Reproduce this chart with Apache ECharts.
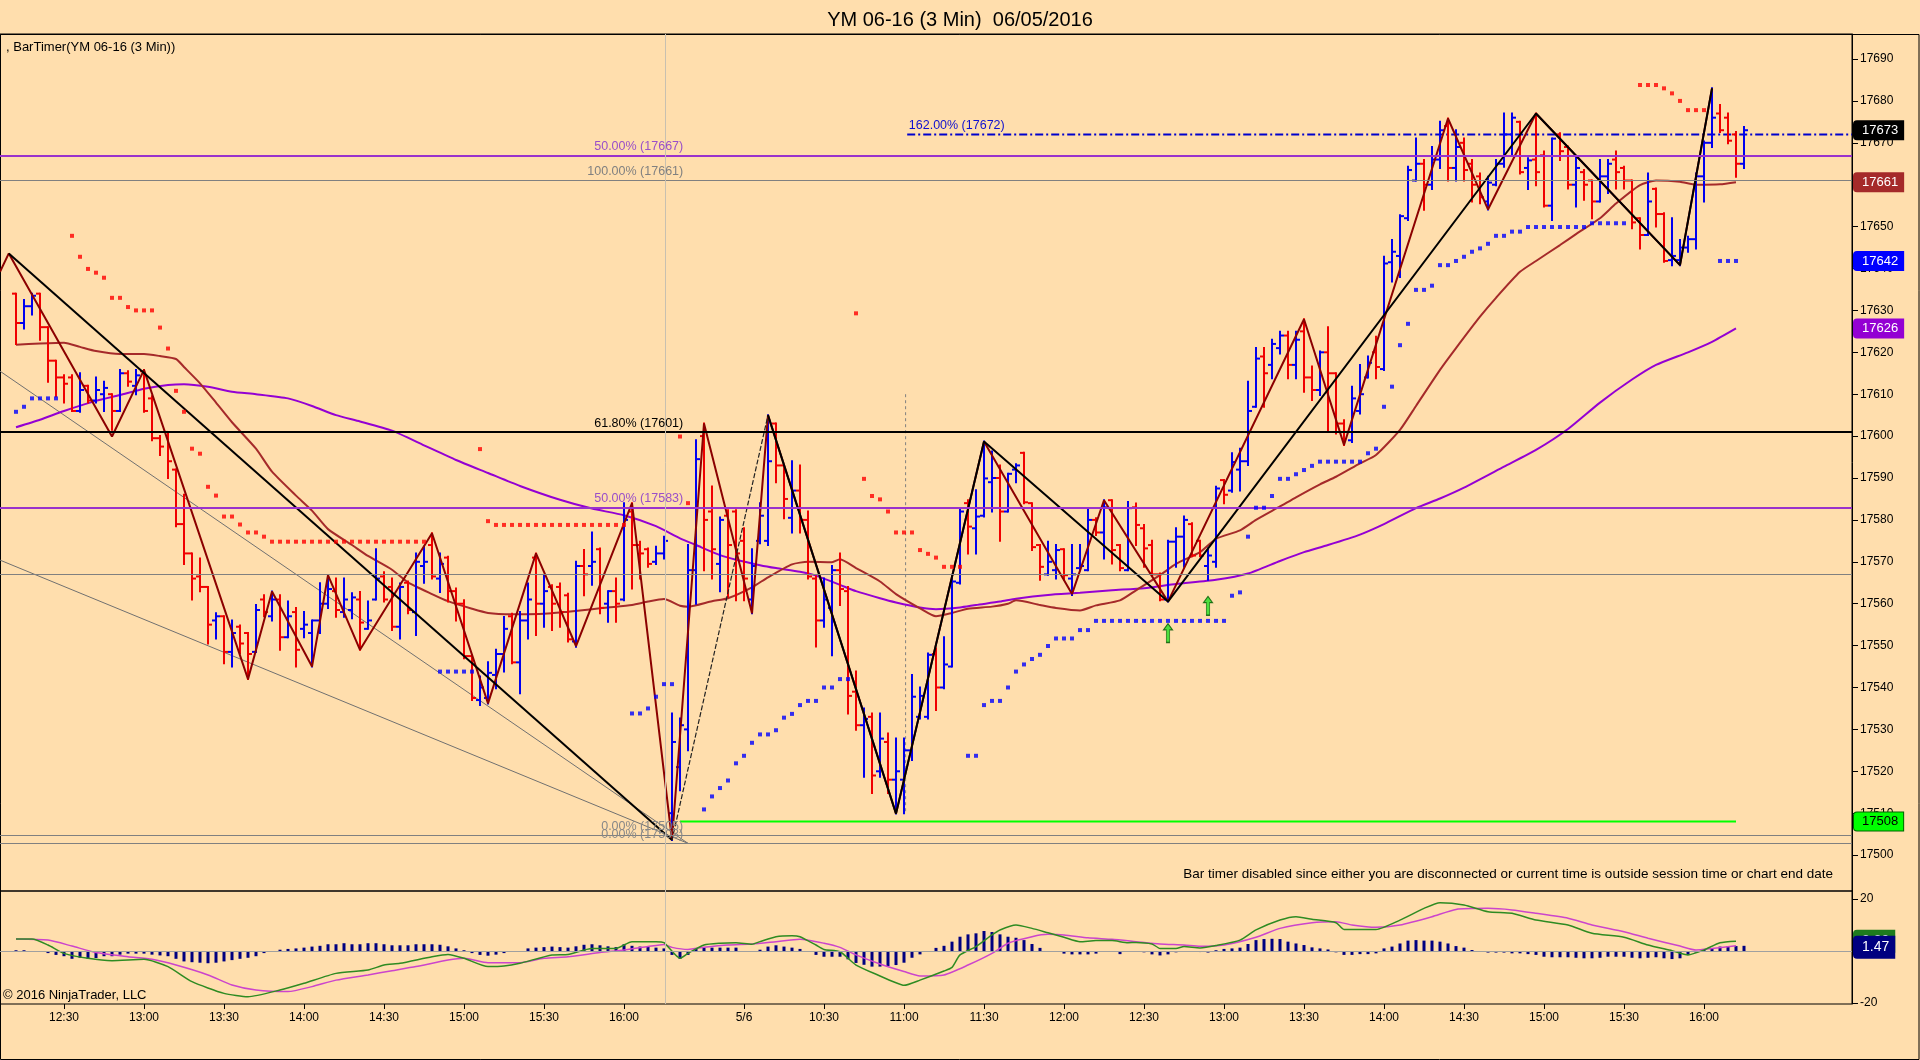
<!DOCTYPE html>
<html><head><meta charset="utf-8">
<script src="https://cdn.jsdelivr.net/npm/echarts@6/dist/echarts.min.js"></script>
<style>html,body{margin:0;padding:0;background:#FFDEAD;}#c{width:1920px;height:1060px;}</style>
</head><body><div id="c"></div>
<script>
// ---------- DATA ----------
// x-axis tick positions (bar index) and labels
const tickIndex = [6,16,26,36,46,56,66,76,91,101,111,121,131,141,151,161,171,181,191,201,211];
const tickLabels = ['12:30','13:00','13:30','14:00','14:30','15:00','15:30','16:00','5/6','10:30','11:00','11:30','12:00','12:30','13:00','13:30','14:00','14:30','15:00','15:30','16:00'];
const priceTicks = [17500,17510,17520,17530,17540,17550,17560,17570,17580,17590,17600,17610,17620,17630,17640,17650,17660,17670,17680,17690];
const macdTicks = [-20,20];
const sessionBreak = 81.1;

// OHLC bars [open, high, low, close]
const ohlc = [
[17634,17634,17622,17627],[17627,17632.5,17625.7,17631],[17631,17634,17629,17633.5],[17634,17634,17623,17626],[17626,17626,17613,17618],
[17618,17618,17609.5,17614],[17614,17614.5,17608,17612.5],[17614,17614.5,17606,17606],[17606,17615,17605.8,17611],[17612,17612,17608,17608.5],
[17608.5,17614,17608,17611],[17610,17613,17606,17611.5],[17610,17610,17601.5,17606],[17606,17615.8,17606,17615],[17615,17615.5,17612,17613],
[17612,17615.8,17610,17614.5],[17615.5,17615.8,17605.8,17606],[17609,17609.5,17599,17599.5],[17599.5,17600,17595.5,17597.5],[17601,17601,17590,17594],
[17592,17592,17578.5,17579],[17579,17586,17569.5,17572],[17572,17572,17561,17566],[17566.5,17570.8,17563,17564],[17564,17564,17550.5,17555],
[17556,17557.7,17551.7,17557],[17557,17557,17545.8,17548.5],[17548.5,17556,17545,17553],[17554.5,17554.8,17548.2,17550.5],[17553,17553,17542,17548],
[17548.5,17559.7,17548.5,17558.5],[17561,17562,17557,17558],[17557,17562.9,17556,17561],[17561,17562,17549,17552],[17552,17560.5,17552,17557],
[17558,17559,17545,17549],[17554,17558,17552,17555],[17553,17556,17545,17556],[17556,17564.9,17553,17560],[17560,17566.8,17559,17563.5],
[17563,17566,17556.9,17558.5],[17558,17566,17556.9,17561],[17558.5,17562.5,17556.5,17561.5],[17561,17562.8,17549,17555.5],[17554,17560.5,17554,17556],
[17561,17573,17561,17566],[17566.5,17567.5,17560.5,17561],[17564,17566,17553.7,17554.5],[17554.5,17564.8,17551.7,17564],[17565,17565.3,17557.7,17558.5],
[17558,17572,17552.5,17570],[17569,17573.6,17565,17570],[17574,17576.8,17566,17566.5],[17566,17572,17562.8,17569.5],[17571,17571.2,17560.5,17563],
[17563,17563.6,17556,17560],[17560,17560.8,17547,17547.5],[17547.5,17547.7,17537,17537.5],[17537,17542.6,17535.8,17540],[17537.5,17546,17536.2,17543.5],
[17543,17549,17539.8,17548],[17548,17556.8,17543.8,17554],[17557,17557.6,17545.8,17546],[17546,17558,17538.6,17556],[17556,17564.8,17551.7,17561],
[17571,17572,17552.5,17560],[17560,17566.8,17554.5,17563],[17564,17564.4,17553.7,17560],[17564,17564.8,17554.5,17558],[17562,17562.4,17551,17551.5],
[17551,17570,17549.7,17569],[17569,17572.8,17562,17567],[17569,17577,17564.5,17570],[17573,17573.2,17557.7,17559],[17560,17563,17555.7,17563],
[17563,17566,17555.7,17560],[17561,17584,17560.8,17580],[17582,17584,17563.6,17574],[17574,17574.8,17566,17572],[17573,17573.2,17568.8,17569.5],
[17570,17573.6,17569.5,17572],[17572,17576,17570.8,17575],[17510,17533.8,17503.6,17527],[17521,17532.6,17515.5,17531],[17530,17574,17525,17568],
[17568,17599,17560,17594.5],[17600,17603,17568,17580],[17582,17588,17566,17573],[17569.5,17580.6,17563,17580],[17581,17582.3,17561.6,17574],
[17582,17582.3,17560.8,17572],[17575,17578,17560.8,17566],[17561,17573,17557.7,17569],[17575,17584,17574.4,17581],[17575,17605,17574,17594],
[17603,17603,17589,17593],[17593,17593,17580.4,17585],[17580.5,17594,17577,17587],[17587,17593,17577,17580],[17580,17582,17566,17566.5],
[17566,17566.5,17549.8,17556],[17556,17566,17554.5,17561],[17559,17569,17547.7,17568],[17568,17572,17559.7,17563.5],[17563,17564,17533.8,17538],
[17539,17543.8,17529.9,17531],[17531,17535,17518.7,17532.5],[17533,17533.8,17514.8,17519],[17520,17533.8,17518.7,17527.8],[17527,17529,17514.8,17518],
[17518,17527.8,17509.9,17520],[17518,17527.8,17510,17525],[17525,17543,17522.7,17537.8],[17533,17540,17532.6,17538],[17533,17548.1,17532.6,17547.8],
[17548,17549.3,17534.6,17540],[17540,17552,17539.8,17545.5],[17545,17566.5,17545,17565.3],[17565,17582.8,17564.8,17582],[17584,17584.7,17572,17578.4],
[17578,17587.1,17572,17580.8],[17581,17598.7,17580.8,17589.9],[17589,17596.3,17582,17590],[17590,17593,17575,17582],[17582,17591,17582,17591],
[17592,17593.3,17589,17593],[17596,17596,17584,17584.2],[17584,17584,17572.8,17573.5],[17574,17574,17565.7,17568.8],[17567,17574.8,17566.9,17570],
[17568,17574,17566,17572.8],[17573,17573,17565.7,17566.8],[17566,17574,17562.1,17567],[17568.5,17574,17568,17569],[17568,17582.4,17568,17580],
[17580,17580.4,17576.4,17577],[17577,17584.7,17570.8,17583],[17584.7,17584.7,17569.6,17572.8],[17574,17574,17568,17568.5],[17568,17584.3,17568,17582.8],
[17583,17583.9,17574,17578.8],[17578,17578.8,17568.8,17573.2],[17574,17575,17566.8,17567],[17567,17567.2,17560.8,17561],[17561,17575,17560.5,17574.8],
[17574.8,17578,17568.8,17576],[17576,17580.8,17568.8,17580],[17579,17579.2,17571.3,17571.5],[17575,17575,17571.3,17571.5],[17569,17573.2,17565.7,17571.5],
[17570,17587.9,17568.8,17587.5],[17589.5,17589.5,17584,17586],[17587,17595.9,17586.7,17593.8],[17592,17597,17587,17594],[17594,17613,17593.1,17606],
[17607,17621,17607,17618.5],[17619,17621,17607,17615],[17617,17623,17613.8,17622],[17621,17624.9,17619.7,17624],[17624,17624.9,17613.8,17617],
[17617,17624.9,17613.8,17623],[17625,17627.9,17610.6,17614],[17614,17616.6,17608.6,17611],[17611,17620.2,17609.8,17620],[17620,17626,17601,17615],
[17615,17615,17600.6,17603],[17603,17603.8,17597.9,17601],[17599,17611.8,17598.6,17609],[17606,17617,17605.4,17610],[17614,17619,17614,17617.5],
[17620,17623.7,17613.8,17616.5],[17616,17642.8,17615.8,17641.2],[17641.5,17646.8,17636.9,17644],[17643,17652.7,17638,17652.5],[17652,17664.3,17651.6,17663.5],
[17661,17671,17661,17665],[17665,17665.9,17654,17660],[17660,17669,17659,17666],[17666,17675,17664,17673],[17674,17675.8,17661,17664],
[17664,17673,17661,17669],[17670,17671,17661,17663.5],[17665,17665.9,17656,17660],[17662,17662.7,17655.6,17657],[17656,17661.9,17654.1,17660.5],
[17660,17665.9,17659.9,17665],[17665,17677,17664.3,17672],[17672,17677,17667,17676],[17675,17675,17662.7,17663],[17664,17666.3,17659,17665.8],
[17666,17677,17659.9,17663],[17667,17667.9,17654.8,17655],[17655,17671,17651.6,17671],[17672,17672.3,17665.9,17668],[17669,17669.1,17659.1,17660],
[17660,17666.7,17654.8,17664],[17663,17663.5,17656.4,17660],[17661,17661,17652,17656],[17656,17665.9,17656,17662],[17662,17665.9,17658,17665],
[17666,17667.9,17659.1,17663],[17664,17664.3,17659.1,17661],[17661,17661,17649.6,17651],[17652,17652,17644.8,17648],[17648,17662.7,17648,17656],
[17659,17659.1,17650,17653],[17653,17653.2,17641.6,17641.8],[17642,17652,17640.8,17643],[17642,17646.8,17640.8,17645],[17645,17647.6,17644,17647],
[17647,17662.7,17644.8,17662],[17662,17670.3,17656,17670],[17670,17683,17669,17676],[17677,17679,17672.6,17673],[17676,17677,17669.9,17670.5],
[17672,17672.6,17661.9,17665],[17665,17673.8,17664,17673]
];

// Parabolic SAR dots [barIndex, value]
const sarBlue = [
[0,17605.8],[1,17607],[2,17609],[3,17609],[4,17609],[5,17609],
[53,17543.8],[54,17543.8],[55,17543.8],[56,17543.8],[57,17543.8],
[77,17533.8],[78,17533.8],[79,17535],[80,17537.8],[81,17540.8],[82,17540.8],
[86,17510.9],[87,17514],[88,17516],[89,17517.8],[90,17521.9],[91,17523.7],[92,17526.8],[93,17528.8],[94,17528.8],[95,17529.8],[96,17532.8],[97,17533.7],[98,17535.8],[99,17536.8],[100,17536.8],[101,17540],[102,17540],[103,17542],[104,17542],
[119,17523.7],[120,17523.7],[121,17535.8],[122,17536.8],[123,17536.8],[124,17540],[125,17543.8],[126,17545.5],[127,17546.8],[128,17547.8],[129,17549.9],[130,17551.7],[131,17551.7],[132,17551.7],[133,17553.7],[134,17553.7],
[135,17555.9],[136,17555.9],[137,17555.9],[138,17555.9],[139,17555.9],[140,17555.9],[141,17555.9],[142,17555.9],[143,17555.9],[144,17555.9],[145,17555.9],[146,17555.9],[147,17555.9],[148,17555.9],[149,17555.9],[150,17555.9],[151,17555.9],
[152,17561.9],[153,17562.7],[154,17576],[155,17582.9],[156,17582.9],[157,17585.7],[158,17589.8],[159,17589.8],[160,17590.9],[161,17591.9],[162,17592.9],[163,17593.9],[164,17593.9],[165,17593.9],[166,17593.9],[167,17593.9],[168,17593.9],[169,17595.9],[170,17597],
[171,17607],[172,17611.8],[173,17621.7],[174,17626.8],[175,17634.9],[176,17634.9],[177,17635.9],[178,17640.8],[179,17640.8],[180,17641.8],[181,17642.8],[182,17644],[183,17644.8],[184,17645.9],[185,17647.8],[186,17647.8],[187,17648.8],[188,17648.8],
[189,17649.9],[190,17649.9],[191,17649.9],[192,17649.9],[193,17649.9],[194,17649.9],[195,17649.9],[196,17649.9],[197,17650.8],[198,17650.8],[199,17650.8],[200,17650.8],[201,17650.8],
[213,17641.8],[214,17641.8],[215,17641.8]
];
const sarRed = [
[7,17647.8],[8,17642.8],[9,17639.9],[10,17639],[11,17637.8],[12,17633],[13,17633],[14,17630.8],[15,17630],[16,17630],[17,17630],[18,17625.9],[19,17620.9],[20,17610.8],[21,17605.8],[22,17597],[23,17595.8],[24,17587.9],[25,17585.8],[26,17580.8],[27,17580.8],[28,17578.9],[29,17577],[30,17577],[31,17576],
[32,17574.8],[33,17574.8],[34,17574.8],[35,17574.8],[36,17574.8],[37,17574.8],[38,17574.8],[39,17574.8],[40,17574.8],[41,17574.8],[42,17574.8],[43,17574.8],[44,17574.8],[45,17574.8],[46,17574.8],[47,17574.8],[48,17574.8],[49,17574.8],[50,17574.8],[51,17574.8],
[58,17596.9],[59,17579.7],[60,17578.8],[61,17578.8],[62,17578.8],[63,17578.8],[64,17578.8],[65,17578.8],[66,17578.8],[67,17578.8],[68,17578.8],[69,17578.8],[70,17578.8],[71,17578.8],[72,17578.8],[73,17578.8],[74,17578.8],[75,17578.8],[76,17578.8],
[83,17599.9],[84,17584],
[105,17629.3],[106,17589.8],[107,17585.7],[108,17584.9],[109,17582],[110,17577],[111,17577],[112,17577],[113,17572.8],[114,17571.9],[115,17571],[116,17568.8],[117,17568.8],[118,17568.8],
[203,17683.8],[204,17683.8],[205,17683.8],[206,17683],[207,17681.8],[208,17680],[209,17677.8],[210,17677.8],[211,17677.8]
];

// Moving averages [barIndex, value]
const maBrown = [
[0,17621.8],[3,17622.1],[6,17622.3],[8,17621.3],[10,17620.3],[13,17619.6],[16,17619.6],[18,17619.1],[20,17618.4],[21,17616.5],[23,17612.6],[25,17608],[27,17603.3],[30,17597],[32,17591.5],[35,17585.8],[37,17582.2],[39,17577.8],[42,17574],[44,17571.4],[47,17568.1],[49,17565.1],[52,17562.3],[54,17560.6],[57,17558.8],[59,17557.8],[62,17557.5],[64,17557.5],[67,17557.7],[69,17558.1],[72,17558.7],[74,17559.1],[77,17559.7],[79,17560.5],[81,17561.1],[83,17559.5],[84,17559.3],[87,17560.6],[89,17561.3],[92,17563.9],[94,17566.3],[97,17569.4],[99,17570],[102,17569.9],[103,17570.6],[105,17568.5],[108,17565.3],[110,17562.3],[113,17558.9],[115,17557],[117,17557.8],[119,17558.8],[122,17559.3],[124,17560],[125,17560.8],[128,17559.7],[130,17559],[133,17558.4],[135,17559.6],[138,17560.8],[140,17563.2],[143,17566.8],[145,17569.5],[148,17572.3],[150,17575.5],[153,17577.5],[155,17580],[158,17583.2],[160,17585.4],[163,17588.5],[165,17590.3],[168,17593.5],[170,17595.5],[173,17601.5],[175,17607.2],[178,17615.8],[180,17621],[183,17628.5],[185,17633],[188,17639.2],[190,17641.8],[193,17645.6],[195,17648.2],[198,17652],[200,17655.5],[203,17659.9],[205,17661],[208,17660.7],[210,17660],[213,17660.1],[215,17660.6]
];
const maPurple = [
[0,17602.1],[3,17603.9],[6,17606],[10,17608.4],[13,17609.8],[16,17611.3],[19,17612.2],[21,17612.4],[24,17611.8],[27,17610.6],[30,17610],[34,17609],[37,17607.2],[40,17605],[43,17603.5],[47,17601.3],[51,17597.8],[55,17594.3],[59,17591.2],[63,17588.1],[68,17584.8],[72,17582.7],[76,17581.1],[80,17578.5],[83,17575.6],[85,17574],[88,17571.6],[90,17570.5],[93,17569.2],[95,17568.5],[98,17567.6],[100,17566.7],[103,17564.5],[105,17563],[108,17561.3],[110,17560.3],[113,17559.1],[115,17558.7],[118,17559.1],[120,17559.7],[123,17560.5],[125,17561.2],[129,17562.1],[133,17562.6],[137,17563.2],[141,17563.7],[145,17564.7],[150,17565.7],[154,17567.2],[158,17570.2],[161,17572.3],[164,17574],[168,17576.5],[171,17579],[175,17582.8],[178,17585.1],[181,17587.7],[186,17592.7],[190,17596.7],[194,17601.7],[198,17608],[202,17613.5],[205,17617],[209,17620],[212,17622.5],[215,17625.7]
];

// ZigZag swing points [barIndex, price]
const zigRed = [[-2,17639.2],[-0.9,17643.6],[12,17599.9],[16,17615.8],[29,17542],[32,17562.9],[37,17545],[39,17566.8],[43,17549],[52,17576.8],[59,17536.2],[65,17572],[70,17549.9],[77,17584],[82,17503.6],[86,17603],[92,17557.7],[94,17605],[110,17509.9],[121,17598.7],[132,17562.3],[136,17584.7],[144,17560.5],[161,17627.9],[166,17597.9],[179,17675.8],[184,17654.1],[190,17677],[208,17640.8],[212,17683]];
const zigBlack1 = [[-0.9,17643.6],[82,17503.6]];
const zigBlackDash = [[82,17503.6],[94,17605]];
const zigBlack2 = [[94,17605],[110,17509.9],[121,17598.7],[144,17560.5],[190,17677],[208,17640.8],[212,17683]];

// drawn trend lines
const trendA = [[-2,17615.5],[84,17502.8]];
const trendB = [[-2,17570.4],[84,17502.8]];
const timeLine = [[111.2,17610],[111.2,17510]];
const ext162 = [[111.4,17672],[229.5,17672]];
const greenLine = [[83,17508],[215,17508]];

// full width fib levels
const hLevels = [17667,17661,17601,17583,17567,17504.8,17502.8];
const hColors = ['#9932CC','#808080','#000000','#9932CC','#808080','#808080','#808080'];
const hWidths = [2,1,2,2,1,1,1];
// fib level labels
const fibLabelX = [83.4,83.4,83.4,83.4,83.4,83.4,111.6];
const fibLabelY = [17667,17661,17601,17583,17504.8,17502.8,17672];
const fibTexts = ['50.00% (17667)','100.00% (17661)','61.80% (17601)','50.00% (17583)','0.00% (17505)','0.00% (17503)','162.00% (17672)'];
const fibColors = ['#9a4fc9','#808080','#000000','#9a4fc9','#888888','#888888','#1010d0'];
const fibAligns = ['right','right','right','right','right','right','left'];

// signal arrows [barIndex, price]
const arrows = [[144,17553],[149,17559.5]];

// MACD
const hist = [
0.3,0.3,0,-0.2,-0.8,-1.5,-2,-3,-2.6,-3,
-2.7,-2,-2,-1.4,-1,-1,-1,-1.4,-1.7,-2,
-3,-4,-4.3,-4.5,-4.7,-4.5,-4,-3.5,-3,-2.6,
-2,-0.8,0,0.5,0.8,1,1.3,1.7,2,2.6,
2.6,3,2.6,2.6,3,3,2.6,2.2,2.2,2.2,
2.6,2.6,2.6,2.4,1.8,1,0.3,-0.8,-1.5,-1.8,
-1.4,-0.8,-0.3,0,1,1.3,1.5,1.7,1.5,1.3,
1.8,2.4,2.6,2.2,1.8,1.5,2.6,2,1.7,1.7,
1.3,1,-1.5,-3,-1.5,1,1.3,1.3,1.3,1.3,
1.3,0,0,0.5,1.7,2.2,1.7,1.3,0.8,-0.2,
-1.5,-2.2,-2.2,-2.2,-3.2,-4.6,-5.3,-6,-6,-5.8,
-5.4,-4.5,-2.6,-1.3,0,1.2,2,3.6,5.5,6.4,
6.8,7.7,7.3,6.4,5.5,5.1,4.2,2.7,1.2,0,
-0.3,-1,-1.3,-1.3,-1.3,-1,0,-0.3,-1.2,-0.3,
-0.3,-0.5,-1.3,-1.7,-1.3,-0.5,-0.3,-0.3,-0.4,-0.6,
0.3,0.8,1,1.3,2.7,4.2,4.6,4.7,4.6,3.6,
2.9,2.3,1.4,1,0.6,-0.5,-1.5,-1.5,-1.2,-1.2,
-0.9,1,1.7,2.9,4,4.2,4,4,3.6,2.9,
1.9,1.3,0.4,-0.3,-0.6,-0.6,-0.6,-0.9,-0.9,-1.2,
-1.5,-2.2,-2.4,-2.4,-2.4,-2.6,-2.8,-2.8,-2.6,-2.2,
-2.2,-2.2,-2.6,-2.8,-2.6,-2.4,-2.8,-3.1,-2.8,-1.5,
-0.6,0.4,1,1.7,1.9,1.9,2.0
];
const macdLine = [[0,4.6],[2,4.6],[4,2.3],[6,-0.9],[9,-2.8],[12,-3.7],[16,-3.2],[19,-6],[22,-11.8],[26,-16.3],[29,-17.6],[33,-15],[36,-12.4],[40,-8.6],[44,-7.3],[46,-5.4],[48,-4.7],[52,-2.2],[54,-1.3],[56,-2.8],[59,-6],[61,-5.8],[63,-4.7],[67,-1.5],[69,-1.3],[72,1],[75,1],[77,3.6],[80,3.6],[81,3.2],[83,-2.8],[84,-0.9],[86,2.3],[88,3],[90,3.2],[92,2.6],[93,3.6],[95,5.5],[97,5.9],[98,5.5],[100,2.3],[101,0.6],[103,-0.3],[105,-5.4],[108,-9.6],[110,-12.2],[111,-13.2],[113,-11.2],[116,-7.7],[117,-6.3],[118,-1.5],[120,1.7],[122,6.2],[123,8.1],[125,10],[127,8.7],[129,7],[131,5.3],[133,3.6],[135,4],[137,4],[139,3.2],[140,3.3],[142,2.7],[143,1],[145,1],[146,1.7],[148,1.2],[150,2.1],[153,4.2],[155,8.1],[158,11.9],[160,13.2],[162,12.2],[165,10.9],[166,8.3],[170,8.3],[173,11.9],[176,16.4],[178,18.6],[181,17.7],[184,15.1],[187,14.5],[190,11.9],[194,10],[197,6.8],[201,5.3],[204,2.3],[207,0.1],[209,-1.5],[211,0.4],[213,3.2],[215,3.8]];
const signalLine = [[0,4.6],[4,4.2],[7,1.9],[10,-0.6],[14,-2.2],[17,-3.2],[20,-5.4],[24,-9.2],[27,-13.1],[30,-15],[34,-15.6],[37,-13.7],[40,-11.2],[44,-9.2],[47,-7.6],[50,-6],[54,-3.5],[56,-2.8],[59,-4.5],[63,-4.5],[66,-2.8],[69,-2.2],[73,-0.6],[76,0.4],[79,1.7],[81,2.5],[82,1.4],[84,0.6],[86,1.4],[89,2.3],[92,2.7],[95,3.6],[98,4.5],[101,3],[103,1.4],[105,-1.5],[108,-5],[111,-7.9],[113,-9.6],[116,-9.2],[119,-5.4],[122,-0.9],[124,3],[127,5.5],[129,6.4],[131,6.2],[134,5.1],[137,4.5],[140,3.6],[143,2.7],[146,2.3],[148,1.8],[151,2.3],[155,5.3],[158,8.7],[162,10.9],[165,11.3],[167,10],[170,9.1],[173,10],[177,13.2],[180,16],[184,16.4],[187,15.8],[190,14.5],[194,12.6],[197,10],[201,7.4],[204,4.9],[208,1.9],[210,0.4],[212,1],[215,2]];
const macdDiffLast = 1.47;

// ---------- CHART ----------
const FONT = '"Liberation Sans", Arial, sans-serif';
const UP = '#0000f0', DN = '#f00000';
const chart = echarts.init(document.getElementById('c'), null, {width:1920, height:1060});

function tag(v, text, bg, fg, border, big) {
  return {yAxis: v, lineStyle:{color:'rgba(0,0,0,0)', width:1},
    label:{show:true, position:'end', distance:2, formatter:text, backgroundColor:bg, color:fg,
      borderColor:border||bg, borderWidth:1, borderRadius:[3,0,0,3],
      padding: big ? [4,5,3,8] : [3,5,2,8], fontSize: big ? 14 : 13, fontFamily:FONT}};
}
const last = a => a[a.length-1][1];

const xBase = {type:'value', min:-2, max:229.5, splitLine:{show:false}};

const option = {
  animation:false,
  backgroundColor:'#FFDEAD',
  textStyle:{fontFamily:FONT},
  title:{text:'YM 06-16 (3 Min)  06/05/2016', left:'center', top:5,
    textStyle:{fontSize:20, fontWeight:'normal', color:'#000', fontFamily:FONT}},
  grid:[
    {left:0, right:68, top:34, height:857, show:true, borderColor:'#000', borderWidth:1, backgroundColor:'transparent'},
    {left:0, right:68, top:891, height:113, show:true, borderColor:'#000', borderWidth:1, backgroundColor:'transparent'}
  ],
  xAxis:[
    Object.assign({gridIndex:0, show:false}, xBase),
    Object.assign({gridIndex:1, axisLine:{show:false, onZero:false},
      axisTick:{show:true, customValues:tickIndex, length:5, lineStyle:{color:'#000'}},
      axisLabel:{customValues:tickIndex, color:'#000', fontSize:12, margin:8, fontFamily:FONT,
        formatter:v=>{const k=tickIndex.indexOf(v); return k>=0?tickLabels[k]:'';}}}, xBase)
  ],
  yAxis:[
    {type:'value', gridIndex:0, position:'right', min:17491.43, max:17695.97, splitLine:{show:false},
      axisLine:{show:true, onZero:false, lineStyle:{color:'#000'}},
      axisTick:{show:true, customValues:priceTicks, length:6, lineStyle:{color:'#000'}},
      axisLabel:{customValues:priceTicks, color:'#000', fontSize:12, margin:8, fontFamily:FONT, formatter:v=>String(v)}},
    {type:'value', gridIndex:1, position:'right', min:-20.38, max:23.08, splitLine:{show:false},
      axisLine:{show:true, onZero:false, lineStyle:{color:'#000'}},
      axisTick:{show:true, customValues:macdTicks, length:6, lineStyle:{color:'#000'}},
      axisLabel:{customValues:macdTicks, color:'#000', fontSize:12, margin:8, fontFamily:FONT, formatter:v=>String(v)}}
  ],
  graphic:[
    {type:'rect', shape:{x:0.5, y:34.5, width:1918.5, height:1025}, style:{fill:'none', stroke:'#000', lineWidth:1}, silent:true},
    {type:'text', left:6, top:41, style:{text:', BarTimer(YM 06-16 (3 Min))', font:'13px '+FONT, fill:'#000'}},
    {type:'text', right:87, top:867, style:{text:'Bar timer disabled since either you are disconnected or current time is outside session time or chart end date', font:'13.5px '+FONT, fill:'#000'}},
    {type:'text', left:3, top:989, style:{text:'\u00a9 2016 NinjaTrader, LLC', font:'13px '+FONT, fill:'#000'}}
  ],
  series:[
    {name:'trendA', type:'line', xAxisIndex:0, yAxisIndex:0, data:trendA, symbol:'none', z:1,
      lineStyle:{color:'#707070', width:1},
      markLine:{silent:true, symbol:['none','none'], label:{show:false},
        data:hLevels.map((v,k)=>({yAxis:v, lineStyle:{color:hColors[k], width:hWidths[k], type:'solid'}}))}},
    {name:'trendB', type:'line', xAxisIndex:0, yAxisIndex:0, data:trendB, symbol:'none', z:1, lineStyle:{color:'#707070', width:1}},
    {name:'timeLine', type:'line', xAxisIndex:0, yAxisIndex:0, data:timeLine, symbol:'none', z:1, lineStyle:{color:'#808080', width:1, type:[3,3]}},
    {name:'ext162', type:'line', xAxisIndex:0, yAxisIndex:0, data:ext162, symbol:'none', z:2, lineStyle:{color:'#0000CD', width:2, type:[8,3,2,3]}},
    {name:'green', type:'line', xAxisIndex:0, yAxisIndex:0, data:greenLine, symbol:'none', z:2, lineStyle:{color:'#00FF00', width:2}},
    {name:'maPurple', type:'line', xAxisIndex:0, yAxisIndex:0, data:maPurple, symbol:'none', smooth:0.2, z:2, lineStyle:{color:'#9400D3', width:2}},
    {name:'maBrown', type:'line', xAxisIndex:0, yAxisIndex:0, data:maBrown, symbol:'none', smooth:0.2, z:2, lineStyle:{color:'#A52A2A', width:2}},
    {name:'ohlc', type:'custom', xAxisIndex:0, yAxisIndex:0, z:3,
      data:ohlc.map((d,i)=>[i,d[0],d[1],d[2],d[3]]),
      encode:{x:0, y:[1,2,3,4]},
      renderItem:(params, api)=>{
        const i=api.value(0), o=api.value(1), h=api.value(2), l=api.value(3), c=api.value(4);
        const pH=api.coord([i,h]), pL=api.coord([i,l]), pO=api.coord([i,o]), pC=api.coord([i,c]);
        const col = c>=o ? UP : DN;
        const st = {stroke:col, lineWidth:2};
        return {type:'group', children:[
          {type:'line', shape:{x1:pH[0], y1:pH[1]-1, x2:pL[0], y2:pL[1]+1}, style:st},
          {type:'line', shape:{x1:pO[0]-4, y1:pO[1], x2:pO[0], y2:pO[1]}, style:st},
          {type:'line', shape:{x1:pC[0], y1:pC[1], x2:pC[0]+4, y2:pC[1]}, style:st}
        ]};
      },
      markLine:{silent:true, symbol:['none','none'], label:{show:false},
        data:[{xAxis:sessionBreak, lineStyle:{color:'#c8c0b0', width:1, type:'solid'}}]}},
    {name:'zigRed', type:'line', xAxisIndex:0, yAxisIndex:0, data:zigRed, symbol:'none', z:4, lineStyle:{color:'#8B0000', width:2}},
    {name:'zigBlack1', type:'line', xAxisIndex:0, yAxisIndex:0, data:zigBlack1, symbol:'none', z:4, lineStyle:{color:'#000', width:2}},
    {name:'zigBlackDash', type:'line', xAxisIndex:0, yAxisIndex:0, data:zigBlackDash, symbol:'none', z:4, lineStyle:{color:'#222', width:1.2, type:[5,2]}},
    {name:'zigBlack2', type:'line', xAxisIndex:0, yAxisIndex:0, data:zigBlack2, symbol:'none', z:4, lineStyle:{color:'#000', width:2}},
    {name:'sarBlue', type:'scatter', xAxisIndex:0, yAxisIndex:0, data:sarBlue, symbol:'rect', symbolSize:4, z:5, itemStyle:{color:'#0000FF'}},
    {name:'sarRed', type:'scatter', xAxisIndex:0, yAxisIndex:0, data:sarRed, symbol:'rect', symbolSize:4, z:5, itemStyle:{color:'#FF0000'}},
    {name:'arrows', type:'scatter', xAxisIndex:0, yAxisIndex:0, data:arrows, z:5,
      symbol:'path://M4,0 L8,6 L5.5,6 L5.5,18 L2.5,18 L2.5,6 L0,6 Z', symbolSize:[9,19],
      itemStyle:{color:'#22DD22', borderColor:'#005500', borderWidth:1}},
    {name:'fibText', type:'custom', xAxisIndex:0, yAxisIndex:0, z:6,
      data:fibLabelY.map((v,k)=>[fibLabelX[k], v]), encode:{x:0, y:1},
      renderItem:(params, api)=>{
        const k=params.dataIndex; const p=api.coord([api.value(0), api.value(1)]);
        return {type:'text', x:p[0], y:p[1]-2, style:{text:fibTexts[k], fill:fibColors[k], align:fibAligns[k], verticalAlign:'bottom', font:'12.5px '+FONT}};
      }},
    // price tags at the right axis
    {name:'tags', type:'line', xAxisIndex:0, yAxisIndex:0, data:[[229.5,17508]], symbol:'none', z:10, lineStyle:{opacity:0},
      markLine:{silent:true, symbol:['none','none'],
        data:[
          tag(17508, '17508', '#00FF00', '#000', '#006400'),
          tag(last(maPurple), String(Math.round(last(maPurple))), '#9400D3', '#fff'),
          tag(last(sarBlue), String(Math.round(last(sarBlue))), '#0000FF', '#fff'),
          tag(last(maBrown), String(Math.round(last(maBrown))), '#A52A2A', '#fff'),
          tag(ohlc[ohlc.length-1][3], String(ohlc[ohlc.length-1][3]), '#000', '#fff')
        ]}},
    // MACD panel
    {name:'hist', type:'custom', xAxisIndex:1, yAxisIndex:1, z:3,
      data:hist.map((v,i)=>[i,v]), encode:{x:0, y:1},
      renderItem:(params, api)=>{
        const i=api.value(0), v=api.value(1);
        const p0=api.coord([i,0]), p1=api.coord([i,v]);
        return {type:'rect', shape:{x:p0[0]-1.5, y:Math.min(p0[1],p1[1]), width:3, height:Math.max(1, Math.abs(p1[1]-p0[1]))}, style:{fill:'#000080'}};
      },
      markLine:{silent:true, symbol:['none','none'], label:{show:false},
        data:[{yAxis:0, lineStyle:{color:'#a0a0a0', width:1, type:'solid'}},
              {xAxis:sessionBreak, lineStyle:{color:'#c8c0b0', width:1, type:'solid'}}]}},
    {name:'signal', type:'line', xAxisIndex:1, yAxisIndex:1, data:signalLine, symbol:'none', smooth:0.2, z:4, lineStyle:{color:'#CC44CC', width:1.5}},
    {name:'macd', type:'line', xAxisIndex:1, yAxisIndex:1, data:macdLine, symbol:'none', smooth:0.2, z:4, lineStyle:{color:'#2E8B22', width:1.5}},
    {name:'macdTags', type:'line', xAxisIndex:1, yAxisIndex:1, data:[[229.5,0]], symbol:'none', z:10, lineStyle:{opacity:0},
      markLine:{silent:true, symbol:['none','none'],
        data:[tag(last(macdLine), last(macdLine).toFixed(2), '#1E7B1E', '#fff', null, true),
              tag(macdDiffLast, String(macdDiffLast), '#000080', '#fff', null, true)]}}
  ]
};
chart.setOption(option);
</script>
</body></html>
